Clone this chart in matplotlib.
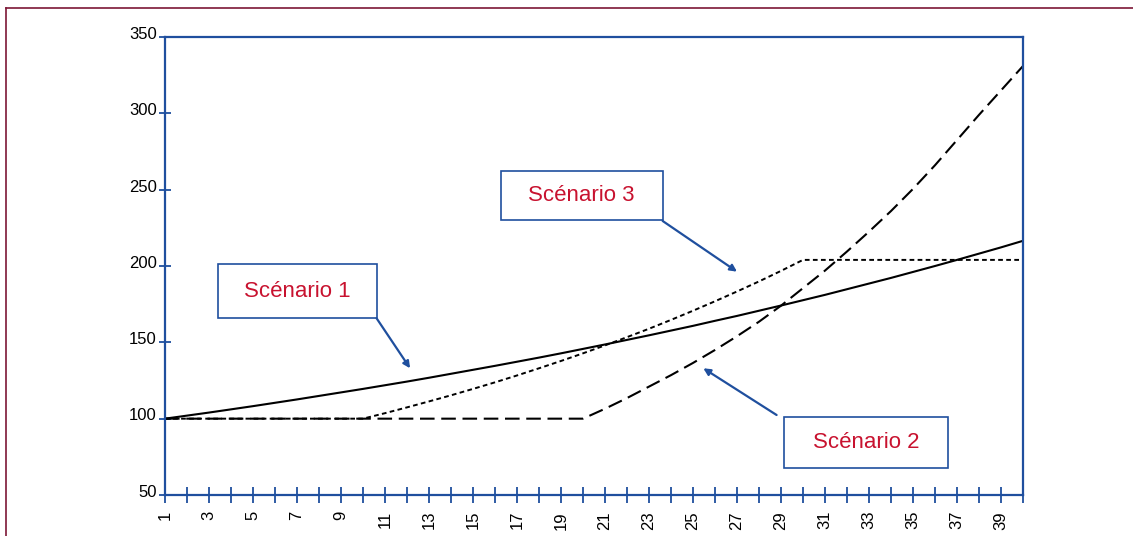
import matplotlib
matplotlib.use("Agg")
import matplotlib.pyplot as plt
from matplotlib.lines import Line2D
from matplotlib.patches import Rectangle
import matplotlib.transforms as mtrans

plt.rcParams["font.family"] = ["Liberation Sans", "DejaVu Sans"]
plt.rcParams["lines.scale_dashes"] = False

# Periods on the horizontal axis
periods = list(range(1, 41))

# Scénario 1: steady growth from period 1
scenario_1 = [100.0, 102.0, 104.0, 106.1, 108.2, 110.4, 112.6, 114.9, 117.2, 119.5,
              121.9, 124.3, 126.8, 129.4, 132.0, 134.6, 137.3, 140.0, 142.8, 145.7,
              148.6, 151.6, 154.6, 157.7, 160.8, 164.1, 167.3, 170.7, 174.1, 177.6,
              181.1, 184.8, 188.5, 192.2, 196.1, 200.0, 204.0, 208.1, 212.2, 216.5]

# Scénario 2: flat until period 20, then fast growth
scenario_2 = [100.0, 100.0, 100.0, 100.0, 100.0, 100.0, 100.0, 100.0, 100.0, 100.0,
              100.0, 100.0, 100.0, 100.0, 100.0, 100.0, 100.0, 100.0, 100.0, 100.0,
              106.5, 113.5, 121.0, 128.5, 136.5, 145.0, 154.0, 163.5, 174.0, 185.5,
              197.0, 209.5, 222.5, 236.0, 250.5, 266.0, 282.5, 299.0, 315.0, 331.0]

# Scénario 3: flat until period 10, growth until period 30, then plateau
scenario_3 = [100.0, 100.0, 100.0, 100.0, 100.0, 100.0, 100.0, 100.0, 100.0, 100.0,
              103.6, 107.4, 111.3, 115.3, 119.5, 123.8, 128.3, 133.0, 137.8, 142.8,
              148.0, 153.4, 158.9, 164.7, 170.7, 176.9, 183.3, 189.9, 196.8, 204.0,
              204.0, 204.0, 204.0, 204.0, 204.0, 204.0, 204.0, 204.0, 204.0, 204.0]

y_ticks = [50, 100, 150, 200, 250, 300, 350]
x_tick_labels = [str(p) if p % 2 == 1 else "" for p in periods]

BLUE = "#1f4f9e"
FRAME = "#7d1736"
LABEL_RED = "#c8122f"

W, H = 1133, 536
fig = plt.figure(figsize=(W / 100, H / 100), dpi=100)
fig.patch.set_facecolor("white")

# Outer frame (top and left edges)
fig.add_artist(Line2D([6 / W, 1.0], [1 - 8 / H, 1 - 8 / H], transform=fig.transFigure,
                      color=FRAME, lw=1.2))
fig.add_artist(Line2D([6 / W, 6 / W], [0.0, 1 - 8 / H], transform=fig.transFigure,
                      color=FRAME, lw=1.2))

ax = fig.add_axes([165 / W, 1 - 495 / H, (1023 - 165) / W, (495 - 37) / H])

ax.plot(periods, scenario_1, color="black", lw=1.5, solid_capstyle="butt")
ax.plot(periods, scenario_2, color="black", lw=1.5, linestyle=(0, (10.5, 4.8)))
ax.plot(periods, scenario_3, color="black", lw=1.4, linestyle=(0, (3.4, 2.4)))

ax.set_xlim(1, 40)
ax.set_ylim(50, 350)
ax.set_xticks(periods)
ax.set_xticklabels(x_tick_labels, rotation=90, va="top", ha="center")
ax.set_yticks(y_ticks)
ax.set_yticklabels([str(v) for v in y_ticks])

for side in ax.spines.values():
    side.set_color(BLUE)
    side.set_linewidth(1.6)

ax.tick_params(axis="x", direction="inout", length=12, width=1.3, color=BLUE,
               pad=5.5, labelsize=12, labelcolor="black")
ax.tick_params(axis="y", direction="inout", length=9, width=1.3, color=BLUE,
               pad=1.5, labelsize=12, labelcolor="black")

# Nudge the value labels slightly upward
lift = mtrans.ScaledTranslation(0, 3 / 72, fig.dpi_scale_trans)
for lbl in ax.get_yticklabels():
    lbl.set_transform(lbl.get_transform() + lift)

# Call-out boxes: (text, x0, x1, y0, y1, arrow start, arrow end)
callouts = [
    ("Scénario 1", 3.42, 10.62, 165.7, 201.3, (10.62, 165.7), (12.14, 133.0)),
    ("Scénario 3", 16.26, 23.62, 230.1, 262.4, (23.62, 229.5), (27.0, 196.3)),
    ("Scénario 2", 29.14, 36.6, 67.5, 101.3, (28.8, 102.4), (25.47, 133.0)),
]

for text, x0, x1, y0, y1, start, end in callouts:
    ax.add_patch(Rectangle((x0, y0), x1 - x0, y1 - y0, facecolor="white",
                           edgecolor=BLUE, lw=1.2, zorder=4))
    ax.text((x0 + x1) / 2, (y0 + y1) / 2, text, color=LABEL_RED, fontsize=16,
            ha="center", va="center", zorder=5)
    ax.annotate("", xy=end, xytext=start,
                arrowprops=dict(arrowstyle="-|>", color=BLUE, lw=1.6,
                                mutation_scale=10, shrinkA=0, shrinkB=0),
                zorder=5)

fig.savefig("out.png", dpi=100)
